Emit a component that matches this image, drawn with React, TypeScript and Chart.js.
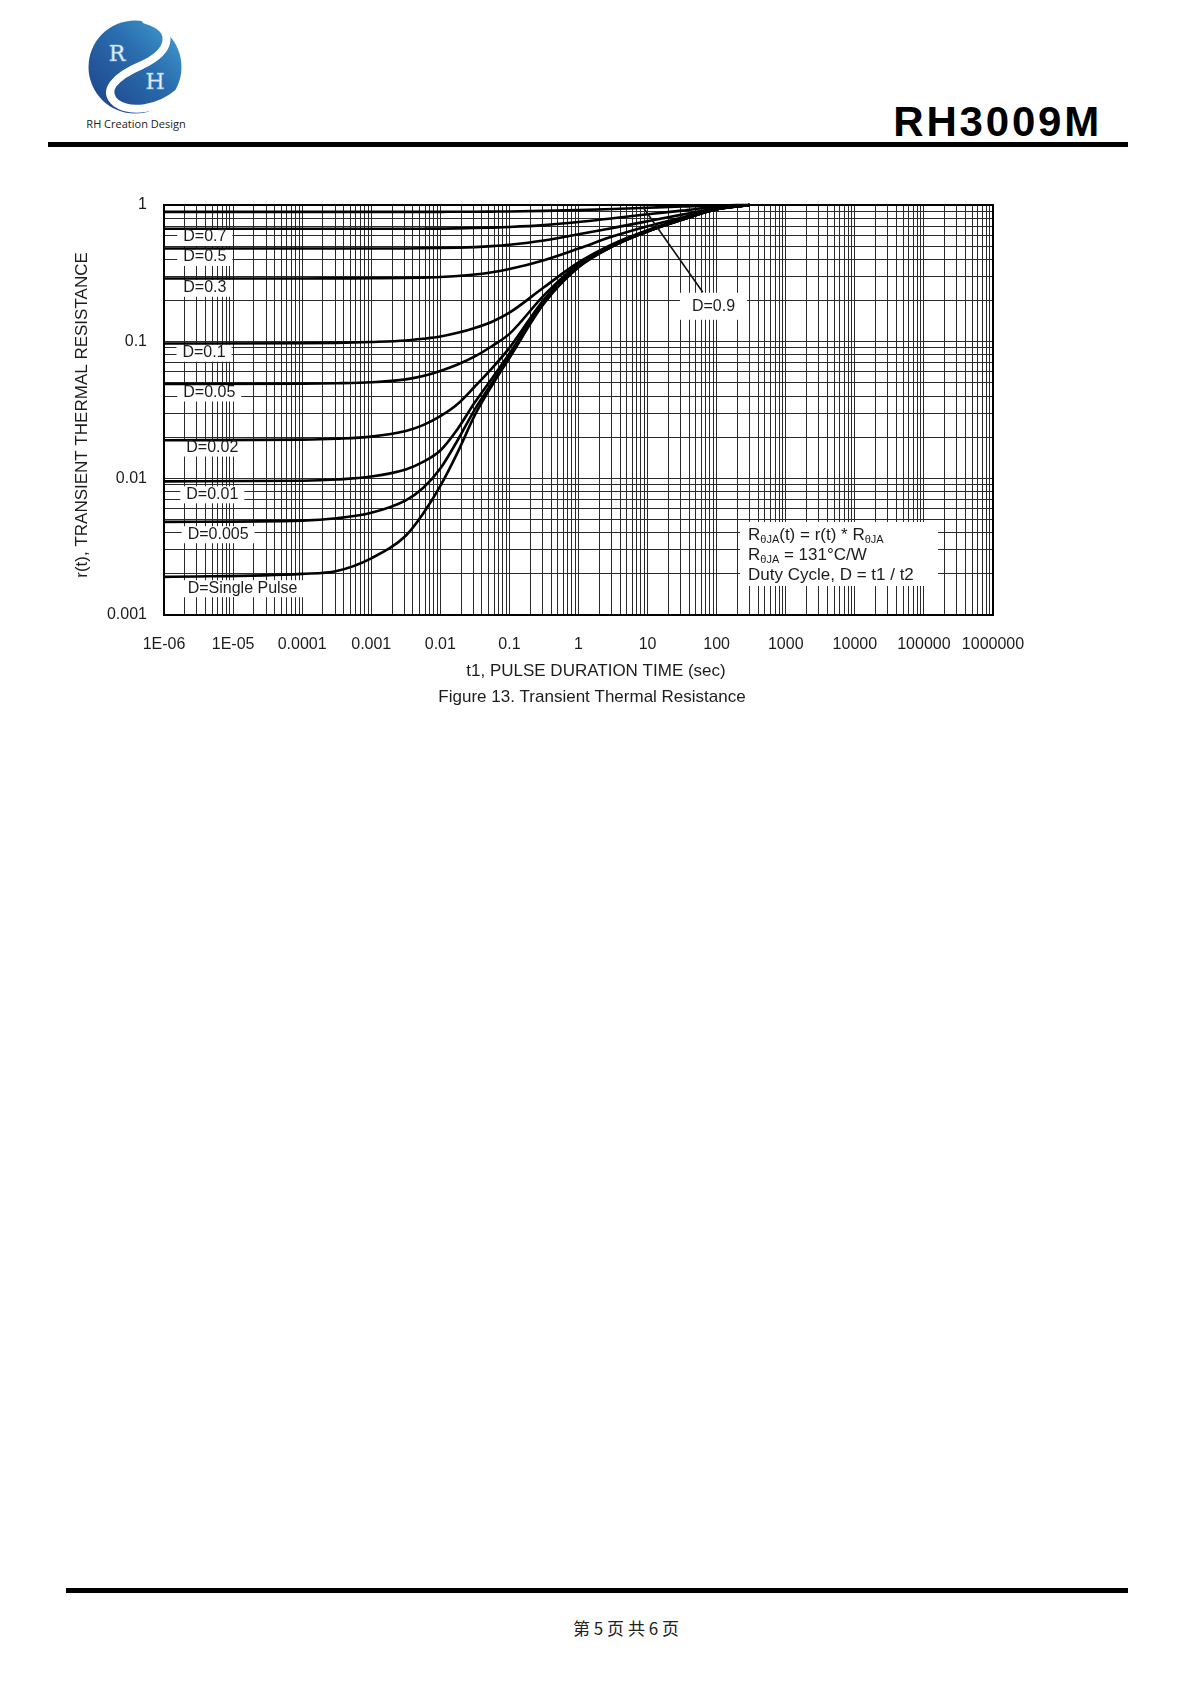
import React, { useEffect, useRef } from 'react';
import { Chart, registerables } from 'chart.js';

Chart.register(...registerables);

// ---------------- data ----------------
const pulseTimes = [1e-6, 1e-4, 3.16e-4, 1e-3, 3.16e-3, 5.62e-3, 0.01, 0.0178, 0.0316, 0.0562, 0.1, 0.316, 1, 3.16, 10, 31.6, 100, 300];

const rD09 = [0.89, 0.89, 0.89, 0.89, 0.89, 0.89, 0.891, 0.892, 0.893, 0.895, 0.897, 0.905, 0.918, 0.935, 0.955, 0.975, 0.992, 1.0];
const rD07 = [0.67, 0.67, 0.67, 0.67, 0.6705, 0.671, 0.672, 0.674, 0.678, 0.683, 0.69, 0.712, 0.75, 0.8, 0.855, 0.91, 0.97, 1.0];
const rD05 = [0.48, 0.48, 0.48, 0.4805, 0.481, 0.482, 0.484, 0.487, 0.492, 0.5, 0.512, 0.55, 0.61, 0.68, 0.76, 0.85, 0.948, 1.0];
const rD03 = [0.29, 0.29, 0.2905, 0.291, 0.292, 0.294, 0.297, 0.302, 0.31, 0.322, 0.34, 0.395, 0.48, 0.59, 0.7, 0.81, 0.938, 1.0];
const rD01 = [0.097, 0.0973, 0.098, 0.0995, 0.102, 0.105, 0.109, 0.116, 0.126, 0.14, 0.163, 0.25, 0.38, 0.52, 0.655, 0.79, 0.933, 1.0];
const rD005 = [0.049, 0.0492, 0.0496, 0.0505, 0.053, 0.056, 0.061, 0.068, 0.078, 0.093, 0.114, 0.218, 0.37, 0.512, 0.648, 0.785, 0.932, 1.0];
const rD002 = [0.019, 0.0192, 0.0195, 0.0202, 0.0222, 0.0245, 0.0285, 0.035, 0.047, 0.064, 0.09, 0.203, 0.36, 0.505, 0.644, 0.782, 0.93, 1.0];
const rD001 = [0.0095, 0.0096, 0.0098, 0.0103, 0.0116, 0.0132, 0.016, 0.023, 0.036, 0.054, 0.082, 0.196, 0.355, 0.502, 0.642, 0.78, 0.93, 1.0];
const rD0005 = [0.0048, 0.0049, 0.0051, 0.0056, 0.0069, 0.0085, 0.0118, 0.019, 0.032, 0.05, 0.078, 0.192, 0.352, 0.5, 0.64, 0.78, 0.93, 1.0];
const rSingle = [0.0019, 0.002, 0.0021, 0.0026, 0.0038, 0.0055, 0.0088, 0.0155, 0.029, 0.048, 0.076, 0.19, 0.35, 0.5, 0.64, 0.78, 0.93, 1.0];

const seriesList = [rD09, rD07, rD05, rD03, rD01, rD005, rD002, rD001, rD0005, rSingle];
const seriesNames = ['D=0.9', 'D=0.7', 'D=0.5', 'D=0.3', 'D=0.1', 'D=0.05', 'D=0.02', 'D=0.01', 'D=0.005', 'D=Single Pulse'];

const xTickLabels = ['1E-06', '1E-05', '0.0001', '0.001', '0.01', '0.1', '1', '10', '100', '1000', '10000', '100000', '1000000'];
const yTickLabels = ['0.001', '0.01', '0.1', '1'];
const X_MIN_EXP = -6;
const X_MAX_EXP = 6;
const Y_MIN_EXP = -3;
const Y_MAX_EXP = 0;

// curve labels (data coordinates: left edge time, centre value)
const labelTexts = ['D=0.7', 'D=0.5', 'D=0.3', 'D=0.1', 'D=0.05', 'D=0.02', 'D=0.01', 'D=0.005', 'D=Single Pulse'];
const labelT = [1.9e-6, 1.9e-6, 1.9e-6, 1.85e-6, 1.9e-6, 2.1e-6, 2.1e-6, 2.2e-6, 2.2e-6];
const labelR = [0.584, 0.417, 0.248, 0.0831, 0.0425, 0.0168, 0.00764, 0.0039, 0.00157];

const d09Text = 'D=0.9';
const d09Center = { t: 90, r: 0.18 };
const d09LeaderFrom = { t: 8.5, r: 0.97 };
const d09LeaderTo = { t: 63, r: 0.23 };

const FONT = '"Liberation Sans", Arial, sans-serif';
const INK = '#1c1c1c';

function gridValues(minExp: number, maxExp: number): number[] {
  const v: number[] = [];
  for (let e = minExp; e < maxExp; e++) {
    for (let m = 1; m < 10; m++) v.push(parseFloat((m * Math.pow(10, e)).toPrecision(6)));
  }
  v.push(Math.pow(10, maxExp));
  return v;
}

function decadeLabel(value: number, labels: string[], minExp: number): string {
  const l = Math.log10(value);
  const r = Math.round(l);
  if (Math.abs(l - r) > 1e-6) return '';
  return labels[r - minExp] ?? '';
}

function drawRich(ctx: CanvasRenderingContext2D, parts: [string, boolean][], x: number, y: number) {
  let cx = x;
  for (const [txt, sub] of parts) {
    ctx.font = sub ? `11px ${FONT}` : `17px ${FONT}`;
    ctx.fillText(txt, cx, sub ? y + 5 : y);
    cx += ctx.measureText(txt).width;
  }
}

const pagePlugin = {
  id: 'pagePlugin',
  beforeDatasetsDraw(chart: any) {
    const { ctx, chartArea: ca } = chart;
    const xs = chart.scales.x;
    const ys = chart.scales.y;
    ctx.save();
    ctx.fillStyle = '#ffffff';
    ctx.font = `16px ${FONT}`;
    labelTexts.forEach((t, i) => {
      const x = xs.getPixelForValue(labelT[i]);
      const y = ys.getPixelForValue(labelR[i]);
      const w = ctx.measureText(t).width;
      ctx.fillRect(x - 6, y - 8, w + 12, 17);
    });
    // D=0.9 box
    const cx = xs.getPixelForValue(d09Center.t);
    const cy = ys.getPixelForValue(d09Center.r);
    const w9 = ctx.measureText(d09Text).width;
    ctx.fillRect(cx - w9 / 2 - 12, cy - 14, w9 + 24, 27);
    // info box
    ctx.fillRect(ca.right - 253, ca.bottom - 93, 198, 64);
    ctx.restore();
  },
  afterDatasetsDraw(chart: any) {
    const { ctx, chartArea: ca } = chart;
    const xs = chart.scales.x;
    const ys = chart.scales.y;
    ctx.save();
    // outer frame
    ctx.strokeStyle = '#000';
    ctx.lineWidth = 2;
    ctx.strokeRect(ca.left, ca.top, ca.right - ca.left, ca.bottom - ca.top);

    ctx.fillStyle = INK;
    ctx.font = `16px ${FONT}`;
    ctx.textBaseline = 'middle';
    ctx.textAlign = 'left';
    labelTexts.forEach((t, i) => {
      const x = xs.getPixelForValue(labelT[i]);
      const y = ys.getPixelForValue(labelR[i]);
      ctx.fillText(t, x, y);
    });
    // D=0.9 label + leader
    ctx.textAlign = 'center';
    ctx.fillText(d09Text, xs.getPixelForValue(d09Center.t), ys.getPixelForValue(d09Center.r));
    ctx.beginPath();
    ctx.lineWidth = 1.6;
    ctx.strokeStyle = '#111';
    ctx.moveTo(xs.getPixelForValue(d09LeaderFrom.t), ys.getPixelForValue(d09LeaderFrom.r));
    ctx.lineTo(xs.getPixelForValue(d09LeaderTo.t), ys.getPixelForValue(d09LeaderTo.r));
    ctx.stroke();

    // info text
    ctx.textAlign = 'left';
    const bx = ca.right - 245;
    const by = ca.bottom - 80;
    drawRich(ctx, [['R', false], ['θJA', true], ['(t) = r(t) * R', false], ['θJA', true]], bx, by);
    drawRich(ctx, [['R', false], ['θJA', true], [' = 131°C/W', false]], bx, by + 20);
    drawRich(ctx, [['Duty Cycle, D = t1 / t2', false]], bx, by + 40);

    // axis titles & caption
    ctx.font = `17px ${FONT}`;
    ctx.textAlign = 'center';
    ctx.fillText('t1, PULSE DURATION TIME (sec)', 596, ca.bottom + 56);
    ctx.fillText('Figure 13. Transient Thermal Resistance', 592, ca.bottom + 82);
    ctx.translate(82, (ca.top + ca.bottom) / 2 + 5);
    ctx.rotate(-Math.PI / 2);
    ctx.fillText('r(t), TRANSIENT THERMAL RESISTANCE', 0, 0);
    ctx.restore();
  },
};

function ThermalChart() {
  const ref = useRef<HTMLCanvasElement | null>(null);
  useEffect(() => {
    if (!ref.current) return;
    const datasets = seriesList.map((vals, i) => ({
      label: seriesNames[i],
      data: pulseTimes.map((t, j) => ({ x: t, y: vals[j] })),
      borderColor: '#000',
      backgroundColor: '#000',
      borderWidth: 2.6,
      pointRadius: 0,
      cubicInterpolationMode: 'monotone' as const,
      fill: false,
      clip: 4,
    }));
    const chart = new Chart(ref.current, {
      type: 'line',
      data: { datasets },
      options: {
        animation: false,
        responsive: false,
        layout: { padding: { left: 0, right: 198, top: 205, bottom: 0 } },
        plugins: { legend: { display: false }, tooltip: { enabled: false }, title: { display: false } },
        scales: {
          x: {
            type: 'logarithmic',
            min: Math.pow(10, X_MIN_EXP),
            max: Math.pow(10, X_MAX_EXP),
            afterBuildTicks: (s: any) => {
              s.ticks = gridValues(X_MIN_EXP, X_MAX_EXP).map((v) => ({ value: v }));
            },
            afterFit: (s: any) => {
              s.height = 145;
            },
            grid: { color: '#2a2a2a', lineWidth: 1, drawTicks: false },
            border: { color: '#000', width: 2 },
            ticks: {
              autoSkip: false,
              maxRotation: 0,
              minRotation: 0,
              padding: 20,
              color: INK,
              font: { family: FONT, size: 16 },
              callback: (v: any) => decadeLabel(Number(v), xTickLabels, X_MIN_EXP),
            },
          },
          y: {
            type: 'logarithmic',
            min: Math.pow(10, Y_MIN_EXP),
            max: Math.pow(10, Y_MAX_EXP),
            afterBuildTicks: (s: any) => {
              s.ticks = gridValues(Y_MIN_EXP, Y_MAX_EXP).map((v) => ({ value: v }));
            },
            afterFit: (s: any) => {
              s.width = 164;
            },
            grid: { color: '#2a2a2a', lineWidth: 1, drawTicks: false },
            border: { color: '#000', width: 2 },
            ticks: {
              autoSkip: false,
              padding: 17,
              color: INK,
              font: { family: FONT, size: 16 },
              callback: (v: any) => decadeLabel(Number(v), yTickLabels, Y_MIN_EXP),
            },
          },
        },
      },
      plugins: [pagePlugin],
    });
    return () => chart.destroy();
  }, []);
  return <canvas ref={ref} width={1191} height={760} style={{ position: 'absolute', left: 0, top: 0, width: 1191, height: 760 }} />;
}

function Logo() {
  return (
    <svg width={110} height={105} viewBox="0 0 110 105" style={{ position: 'absolute', left: 80, top: 15 }}>
      <defs>
        <linearGradient id="logoGrad" x1="0" y1="1" x2="1" y2="0">
          <stop offset="0" stopColor="#1b3f86" />
          <stop offset="0.6" stopColor="#2b6fb0" />
          <stop offset="1" stopColor="#45a3d4" />
        </linearGradient>
      </defs>
      <circle cx={55} cy={52} r={46.5} fill="url(#logoGrad)" />
      <path d="M66 5 C 96 14, 92 36, 62 50 C 34 62, 22 76, 36 88 C 50 98, 78 95, 98 78" stroke="#ffffff" strokeWidth={8} fill="none" strokeLinecap="round" />
      <text x={37} y={46} fontFamily='"DejaVu Serif", "Liberation Serif", serif' fontSize={22} fill="#eef4fb" stroke="#9cc3e6" strokeWidth={0.6} textAnchor="middle">R</text>
      <text x={75} y={74} fontFamily='"DejaVu Serif", "Liberation Serif", serif' fontSize={22} fill="#eef4fb" stroke="#9cc3e6" strokeWidth={0.6} textAnchor="middle">H</text>
    </svg>
  );
}

export default function App() {
  return (
    <div style={{ position: 'absolute', left: 0, top: 0, width: 1191, height: 1684, background: '#fff', overflow: 'hidden' }}>
      <Logo />
      <div style={{ position: 'absolute', left: 36, width: 200, top: 116, textAlign: 'center', fontFamily: '"Open Sans", sans-serif', fontSize: 11, color: '#222' }}>
        RH Creation Design
      </div>
      <div style={{ position: 'absolute', right: 89, top: 98, fontFamily: FONT, fontWeight: 'bold', fontSize: 42, letterSpacing: 2.8, color: '#000', lineHeight: '48px' }}>
        RH3009M
      </div>
      <div style={{ position: 'absolute', left: 48, top: 142, width: 1080, height: 5, background: '#000' }} />
      <ThermalChart />
      <div style={{ position: 'absolute', left: 66, top: 1588, width: 1062, height: 5, background: '#000' }} />
      <div style={{ position: 'absolute', left: 0, width: 1252, top: 1615, textAlign: 'center', fontFamily: '"Noto Sans CJK SC", sans-serif', fontSize: 17, color: '#222' }}>
        第 5 页 共 6 页
      </div>
    </div>
  );
}
